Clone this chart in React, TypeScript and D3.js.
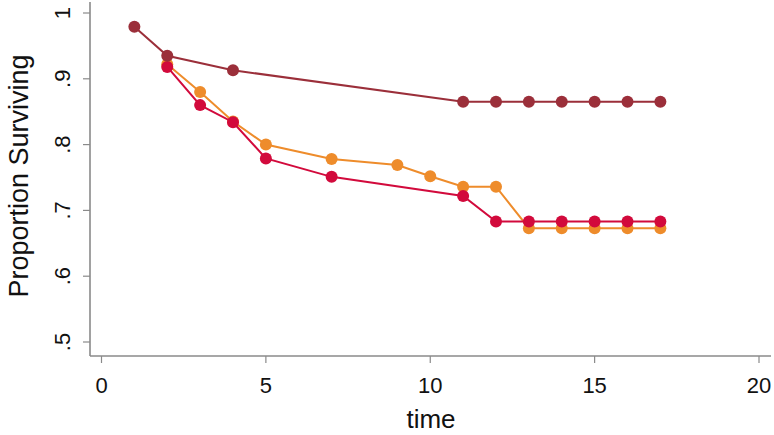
import React from "react";
import * as d3 from "d3";

const timesA = [1, 2, 4, 11, 12, 13, 14, 15, 16, 17];
const valuesA = [0.979, 0.935, 0.913, 0.865, 0.865, 0.865, 0.865, 0.865, 0.865, 0.865];

const timesB = [2, 3, 4, 5, 7, 9, 10, 11, 12, 13, 14, 15, 16, 17];
const valuesB = [0.922, 0.880, 0.835, 0.800, 0.778, 0.769, 0.752, 0.736, 0.736, 0.673, 0.673, 0.673, 0.673, 0.673];

const timesC = [2, 3, 4, 5, 7, 11, 12, 13, 14, 15, 16, 17];
const valuesC = [0.918, 0.860, 0.834, 0.779, 0.751, 0.722, 0.683, 0.683, 0.683, 0.683, 0.683, 0.683];

const xTicks = [0, 5, 10, 15, 20];
const yTicks = [0.5, 0.6, 0.7, 0.8, 0.9, 1];
const yTickLabels = [".5", ".6", ".7", ".8", ".9", "1"];

const series = [
  { name: "B", times: timesB, values: valuesB, color: "#ee8c2b" },
  { name: "C", times: timesC, values: valuesC, color: "#d20a3c" },
  { name: "A", times: timesA, values: valuesA, color: "#9b2f3a" },
];

export default function App() {
  const W = 774, H = 435;
  const x = d3.scaleLinear().domain([0, 20]).range([101.5, 759]);
  const y = d3.scaleLinear().domain([0.5, 1]).range([342, 13]);
  const line = d3.line<[number, number]>().x(d => x(d[0])).y(d => y(d[1]));
  const axisColor = "#8a8a8a";
  const font = "'Liberation Sans', Arial, Helvetica, sans-serif";
  return (
    <svg width={W} height={H} style={{ position: "absolute", left: 0, top: 0, background: "#fff" }} fontFamily={font}>
      <rect width={W} height={H} fill="#fff" />
      <line x1={90} x2={90} y1={2} y2={356} stroke={axisColor} strokeWidth={1.6} />
      <line x1={90} x2={771} y1={356} y2={356} stroke={axisColor} strokeWidth={1.6} />
      {yTicks.map((t, i) => (
        <g key={"y" + i}>
          <line x1={83} x2={90} y1={y(t)} y2={y(t)} stroke={axisColor} strokeWidth={1.2} />
          <text transform={`translate(70,${y(t)}) rotate(-90)`} textAnchor="middle" fontSize={22} fill="#111">{yTickLabels[i]}</text>
        </g>
      ))}
      {xTicks.map((t, i) => (
        <g key={"x" + i}>
          <line x1={x(t)} x2={x(t)} y1={356} y2={363} stroke={axisColor} strokeWidth={1.2} />
          <text x={x(t)} y={393} textAnchor="middle" fontSize={22} fill="#111">{t}</text>
        </g>
      ))}
      <text x={431} y={428} textAnchor="middle" fontSize={26} fill="#111">time</text>
      <text transform={`translate(28,176) rotate(-90)`} textAnchor="middle" fontSize={27} fill="#111">Proportion Surviving</text>
      {series.map(s => {
        const pts: [number, number][] = s.times.map((t, i) => [t, s.values[i]]);
        return (
          <g key={s.name}>
            <path d={line(pts) || ""} fill="none" stroke={s.color} strokeWidth={2} />
            {pts.map((p, i) => (
              <circle key={i} cx={x(p[0])} cy={y(p[1])} r={6} fill={s.color} />
            ))}
          </g>
        );
      })}
    </svg>
  );
}
